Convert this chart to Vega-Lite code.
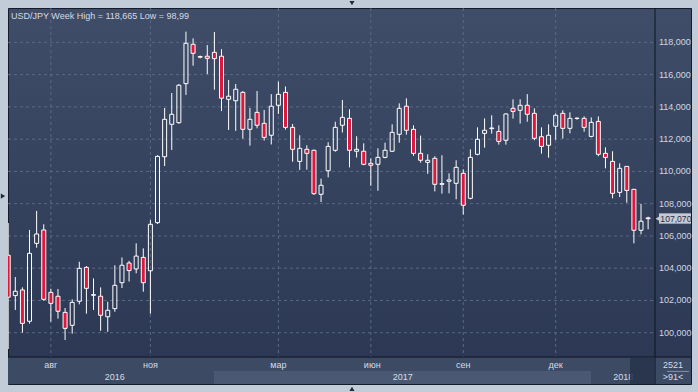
{
  "$schema": "https://vega.github.io/schema/vega-lite/v6.json",
  "width": 683,
  "height": 376,
  "autosize": {"type": "none"},
  "padding": {"left": 8, "top": 8, "right": 7, "bottom": 8},
  "background": "#c2ccd8",
  "title": {
    "text": "USD/JPY Week High = 118,665 Low = 98,99",
    "anchor": "start",
    "frame": "group",
    "orient": "top",
    "offset": -20,
    "dx": 3,
    "font": "Liberation Sans",
    "fontSize": 9,
    "fontWeight": "normal",
    "color": "#d4dae4"
  },
  "config": {
    "font": "Liberation Sans",
    "locale": {"number": {"decimal": ",", "thousands": " ", "grouping": [3], "currency": ["", ""]}},
    "view": {
      "fill": {"gradient": "linear", "x1": 0, "y1": 0, "x2": 0, "y2": 1,
        "stops": [{"offset": 0, "color": "#3f4d68"}, {"offset": 0.93, "color": "#2c3854"}, {"offset": 1, "color": "#2c3854"}]},
      "stroke": "#151b28",
      "strokeWidth": 1
    }
  },
  "datasets": {
    "candles": [
      {"i":0,"o":104.8,"h":106.8,"l":98.99,"c":102.2},
      {"i":1,"o":102.3,"h":103.45,"l":101.41,"c":102.57},
      {"i":2,"o":102.65,"h":102.81,"l":100.0,"c":100.58},
      {"i":3,"o":100.71,"h":106.37,"l":100.56,"c":104.92},
      {"i":4,"o":105.54,"h":107.55,"l":105.27,"c":106.12},
      {"i":5,"o":106.37,"h":106.72,"l":101.98,"c":102.07},
      {"i":6,"o":102.5,"h":102.73,"l":100.68,"c":101.82},
      {"i":7,"o":102.26,"h":102.71,"l":100.87,"c":101.33},
      {"i":8,"o":101.26,"h":101.53,"l":99.55,"c":100.27},
      {"i":9,"o":100.46,"h":102.07,"l":99.94,"c":101.88},
      {"i":10,"o":101.95,"h":104.4,"l":101.76,"c":103.99},
      {"i":11,"o":104.05,"h":104.13,"l":101.18,"c":102.75},
      {"i":12,"o":102.36,"h":103.37,"l":101.41,"c":102.32},
      {"i":13,"o":102.26,"h":102.81,"l":100.12,"c":101.08},
      {"i":14,"o":100.99,"h":101.92,"l":100.06,"c":101.39},
      {"i":15,"o":101.49,"h":104.18,"l":101.3,"c":102.94},
      {"i":16,"o":103.1,"h":104.67,"l":102.77,"c":104.18},
      {"i":17,"o":104.32,"h":104.45,"l":103.17,"c":103.85},
      {"i":18,"o":103.95,"h":105.54,"l":103.68,"c":104.75},
      {"i":19,"o":104.67,"h":105.23,"l":102.54,"c":103.1},
      {"i":20,"o":103.84,"h":106.99,"l":101.18,"c":106.72},
      {"i":21,"o":106.82,"h":111.0,"l":106.74,"c":110.93},
      {"i":22,"o":110.91,"h":113.93,"l":110.33,"c":113.23},
      {"i":23,"o":112.92,"h":114.86,"l":111.33,"c":113.54},
      {"i":24,"o":113.02,"h":115.42,"l":112.95,"c":115.34},
      {"i":25,"o":115.44,"h":118.665,"l":114.74,"c":117.94},
      {"i":26,"o":117.88,"h":118.25,"l":116.55,"c":117.32},
      {"i":27,"o":117.12,"h":117.18,"l":117.01,"c":117.08},
      {"i":28,"o":117.14,"h":117.83,"l":116.03,"c":117.01},
      {"i":29,"o":117.38,"h":118.64,"l":115.07,"c":116.99},
      {"i":30,"o":117.14,"h":117.58,"l":113.74,"c":114.54},
      {"i":31,"o":114.47,"h":115.67,"l":112.57,"c":114.66},
      {"i":32,"o":114.38,"h":115.42,"l":112.51,"c":115.09},
      {"i":33,"o":114.9,"h":114.98,"l":112.03,"c":112.61},
      {"i":34,"o":112.61,"h":113.93,"l":111.6,"c":113.23},
      {"i":35,"o":113.66,"h":114.98,"l":112.67,"c":112.86},
      {"i":36,"o":112.98,"h":113.81,"l":111.91,"c":112.11},
      {"i":37,"o":112.24,"h":114.79,"l":111.67,"c":114.04},
      {"i":38,"o":114.1,"h":115.57,"l":113.56,"c":114.78},
      {"i":39,"o":114.9,"h":115.26,"l":112.59,"c":112.73},
      {"i":40,"o":112.73,"h":112.94,"l":110.6,"c":111.37},
      {"i":41,"o":110.62,"h":112.24,"l":110.09,"c":111.43},
      {"i":42,"o":111.37,"h":111.62,"l":110.11,"c":111.12},
      {"i":43,"o":111.31,"h":111.35,"l":108.54,"c":108.62},
      {"i":44,"o":108.58,"h":109.55,"l":108.1,"c":109.14},
      {"i":45,"o":110.04,"h":111.81,"l":109.63,"c":111.55},
      {"i":46,"o":111.31,"h":113.08,"l":111.22,"c":112.73},
      {"i":47,"o":112.86,"h":114.43,"l":112.41,"c":113.35},
      {"i":48,"o":113.29,"h":113.85,"l":110.25,"c":111.31},
      {"i":49,"o":111.25,"h":112.18,"l":110.86,"c":111.37},
      {"i":50,"o":111.25,"h":111.74,"l":110.38,"c":110.44},
      {"i":51,"o":110.5,"h":110.81,"l":109.11,"c":110.38},
      {"i":52,"o":110.44,"h":111.43,"l":108.8,"c":110.87},
      {"i":53,"o":110.87,"h":111.78,"l":110.81,"c":111.31},
      {"i":54,"o":111.25,"h":112.92,"l":111.2,"c":112.42},
      {"i":55,"o":112.3,"h":114.22,"l":111.78,"c":113.91},
      {"i":56,"o":114.04,"h":114.53,"l":112.28,"c":112.55},
      {"i":57,"o":112.61,"h":112.86,"l":110.97,"c":111.12},
      {"i":58,"o":111.12,"h":112.22,"l":110.54,"c":110.69},
      {"i":59,"o":110.56,"h":111.06,"l":109.85,"c":110.69},
      {"i":60,"o":110.81,"h":110.94,"l":108.76,"c":109.2},
      {"i":61,"o":109.24,"h":111.0,"l":108.62,"c":109.2},
      {"i":62,"o":109.39,"h":109.88,"l":108.64,"c":109.47},
      {"i":63,"o":109.26,"h":110.69,"l":108.27,"c":110.25},
      {"i":64,"o":109.88,"h":110.13,"l":107.32,"c":107.9},
      {"i":65,"o":108.33,"h":111.37,"l":108.27,"c":110.87},
      {"i":66,"o":111.06,"h":112.73,"l":111.0,"c":111.99},
      {"i":67,"o":112.36,"h":113.29,"l":111.47,"c":112.55},
      {"i":68,"o":112.69,"h":113.48,"l":112.34,"c":112.65},
      {"i":69,"o":112.48,"h":112.86,"l":111.66,"c":111.86},
      {"i":70,"o":111.93,"h":113.6,"l":111.66,"c":113.56},
      {"i":71,"o":113.91,"h":114.47,"l":113.27,"c":113.72},
      {"i":72,"o":113.79,"h":114.47,"l":112.96,"c":114.1},
      {"i":73,"o":114.1,"h":114.79,"l":113.08,"c":113.54},
      {"i":74,"o":113.6,"h":113.91,"l":111.93,"c":112.05},
      {"i":75,"o":112.15,"h":112.73,"l":111.1,"c":111.55},
      {"i":76,"o":111.62,"h":112.92,"l":110.85,"c":112.24},
      {"i":77,"o":112.8,"h":113.6,"l":111.96,"c":113.48},
      {"i":78,"o":113.6,"h":113.79,"l":112.03,"c":112.67},
      {"i":79,"o":112.67,"h":113.66,"l":112.36,"c":113.29},
      {"i":80,"o":113.3,"h":113.35,"l":113.2,"c":113.28},
      {"i":81,"o":113.29,"h":113.41,"l":112.46,"c":112.73},
      {"i":82,"o":112.17,"h":113.35,"l":112.11,"c":113.04},
      {"i":83,"o":113.1,"h":113.41,"l":110.94,"c":111.06},
      {"i":84,"o":111.12,"h":111.49,"l":110.19,"c":110.87},
      {"i":85,"o":110.62,"h":111.25,"l":108.33,"c":108.64},
      {"i":86,"o":108.7,"h":110.5,"l":108.41,"c":110.19},
      {"i":87,"o":110.31,"h":110.31,"l":108.06,"c":108.82},
      {"i":88,"o":108.89,"h":108.89,"l":105.54,"c":106.35},
      {"i":89,"o":106.35,"h":107.98,"l":106.1,"c":106.91},
      {"i":90,"o":107.12,"h":107.19,"l":106.41,"c":107.07}
    ],
    "hgrid": [{"v":100},{"v":102},{"v":104},{"v":106},{"v":108},{"v":110},{"v":112},{"v":114},{"v":116},{"v":118}],
    "vgrid": [{"i":6},{"i":20},{"i":38},{"i":51},{"i":64},{"i":77}],
    "xlab": [
      {"i":6,"t":"авг","row":1},
      {"i":20,"t":"ноя","row":1},
      {"i":38,"t":"мар","row":1},
      {"i":51.2,"t":"июн","row":1},
      {"i":64,"t":"сен","row":1},
      {"i":77,"t":"дек","row":1},
      {"i":15,"t":"2016","row":2},
      {"i":55.5,"t":"2017","row":2},
      {"i":86.5,"t":"2018","row":2},
      {"i":93.5,"t":"2521","row":1},
      {"i":93.5,"t":">91<","row":2}
    ],
    "last": [{"v":107.07,"label":"107,070"}]
  },
  "layer": [
    {
      "data": {"values": [{"part": "date band"}]},
      "mark": {"type": "rect", "fill": "#3c4a64"},
      "encoding": {
        "x": {"datum": -0.028, "type": "quantitative", "scale": {"domain": [-0.028, 96.03], "nice": false, "zero": false, "padding": 0}, "axis": null},
        "x2": {"datum": 96.03},
        "y": {"datum": 98.49, "type": "quantitative", "scale": {"domain": [96.82, 120.13], "nice": false, "zero": false, "padding": 0}, "axis": null},
        "y2": {"datum": 96.82}
      }
    },
    {
      "data": {"values": [{"part": "2017"}]},
      "mark": {"type": "rect", "fill": "#4a5873"},
      "encoding": {
        "x": {"datum": 28.94, "type": "quantitative", "scale": {"domain": [-0.028, 96.03], "nice": false, "zero": false, "padding": 0}, "axis": null},
        "x2": {"datum": 81.97},
        "y": {"datum": 97.63, "type": "quantitative", "scale": {"domain": [96.82, 120.13], "nice": false, "zero": false, "padding": 0}, "axis": null},
        "y2": {"datum": 96.82}
      }
    },
    {
      "data": {"name": "hgrid"},
      "mark": {"type": "rule", "color": "#5a6984", "strokeWidth": 1, "strokeDash": [3, 3]},
      "encoding": {
        "y": {"field": "v", "type": "quantitative", "scale": {"domain": [96.82, 120.13], "nice": false, "zero": false, "padding": 0}, "axis": null},
        "x": {"datum": -0.028, "type": "quantitative", "scale": {"domain": [-0.028, 96.03], "nice": false, "zero": false, "padding": 0}, "axis": null},
        "x2": {"datum": 90.97}
      }
    },
    {
      "data": {"name": "vgrid"},
      "mark": {"type": "rule", "color": "#5a6984", "strokeWidth": 1, "strokeDash": [3, 3]},
      "encoding": {
        "x": {"field": "i", "type": "quantitative", "scale": {"domain": [-0.028, 96.03], "nice": false, "zero": false, "padding": 0}, "axis": null},
        "y": {"datum": 120.13, "type": "quantitative", "scale": {"domain": [96.82, 120.13], "nice": false, "zero": false, "padding": 0}, "axis": null},
        "y2": {"datum": 98.49}
      }
    },
    {
      "data": {"values": [{"part": "price axis line"}]},
      "mark": {"type": "rule", "color": "#10151f", "strokeWidth": 1},
      "encoding": {
        "x": {"datum": 90.97, "type": "quantitative", "scale": {"domain": [-0.028, 96.03], "nice": false, "zero": false, "padding": 0}, "axis": null},
        "y": {"datum": 120.13, "type": "quantitative", "scale": {"domain": [96.82, 120.13], "nice": false, "zero": false, "padding": 0}, "axis": null},
        "y2": {"datum": 96.82}
      }
    },
    {
      "data": {"values": [{"part": "date axis line"}]},
      "mark": {"type": "rule", "color": "#10151f", "strokeWidth": 1},
      "encoding": {
        "x": {"datum": -0.028, "type": "quantitative", "scale": {"domain": [-0.028, 96.03], "nice": false, "zero": false, "padding": 0}, "axis": null},
        "x2": {"datum": 96.03},
        "y": {"datum": 98.49, "type": "quantitative", "scale": {"domain": [96.82, 120.13], "nice": false, "zero": false, "padding": 0}, "axis": null}
      }
    },
    {
      "data": {"values": [{"part": "counter separator"}]},
      "mark": {"type": "rule", "color": "#8793a7", "strokeWidth": 1},
      "encoding": {
        "x": {"datum": 92.66, "type": "quantitative", "scale": {"domain": [-0.028, 96.03], "nice": false, "zero": false, "padding": 0}, "axis": null},
        "x2": {"datum": 95.75},
        "y": {"datum": 97.6, "type": "quantitative", "scale": {"domain": [96.82, 120.13], "nice": false, "zero": false, "padding": 0}, "axis": null}
      }
    },
    {
      "data": {"name": "candles"},
      "transform": [
        {"fold": ["o", "c"], "as": ["k", "p"]},
        {"aggregate": [
          {"op": "max", "field": "p", "as": "top"},
          {"op": "min", "field": "p", "as": "bot"},
          {"op": "max", "field": "h", "as": "hi"},
          {"op": "min", "field": "l", "as": "lo"}
        ], "groupby": ["i"]}
      ],
      "layer": [
        {
          "mark": {"type": "rule", "color": "#ffffff", "strokeWidth": 1, "clip": true},
          "encoding": {
            "x": {"field": "i", "type": "quantitative", "scale": {"domain": [-0.028, 96.03], "nice": false, "zero": false, "padding": 0}, "axis": null},
            "y": {"field": "hi", "type": "quantitative", "scale": {"domain": [96.82, 120.13], "nice": false, "zero": false, "padding": 0}, "axis": null},
            "y2": {"field": "top"}
          }
        },
        {
          "mark": {"type": "rule", "color": "#ffffff", "strokeWidth": 1, "clip": true},
          "encoding": {
            "x": {"field": "i", "type": "quantitative", "scale": {"domain": [-0.028, 96.03], "nice": false, "zero": false, "padding": 0}, "axis": null},
            "y": {"field": "bot", "type": "quantitative", "scale": {"domain": [96.82, 120.13], "nice": false, "zero": false, "padding": 0}, "axis": null},
            "y2": {"field": "lo"}
          }
        }
      ]
    },
    {
      "data": {"name": "candles"},
      "mark": {"type": "bar", "width": 4, "stroke": "#ffffff", "strokeWidth": 1, "clip": true},
      "encoding": {
        "x": {"field": "i", "type": "quantitative", "scale": {"domain": [-0.028, 96.03], "nice": false, "zero": false, "padding": 0}, "axis": null},
        "y": {"field": "o", "type": "quantitative", "scale": {"domain": [96.82, 120.13], "nice": false, "zero": false, "padding": 0}, "axis": null},
        "y2": {"field": "c"},
        "fill": {"condition": {"test": "datum.c < datum.o", "value": "#e1163c"}, "value": "transparent"}
      }
    },
    {
      "data": {"name": "hgrid"},
      "mark": {"type": "text", "align": "left", "baseline": "middle", "font": "Liberation Sans", "fontSize": 9, "fill": "#cfd7e3"},
      "encoding": {
        "x": {"datum": 91.53, "type": "quantitative", "scale": {"domain": [-0.028, 96.03], "nice": false, "zero": false, "padding": 0}, "axis": null},
        "y": {"field": "v", "type": "quantitative", "scale": {"domain": [96.82, 120.13], "nice": false, "zero": false, "padding": 0}, "axis": null},
        "text": {"field": "v", "type": "quantitative", "format": ".3f"}
      }
    },
    {
      "data": {"name": "xlab"},
      "transform": [{"filter": "datum.row == 1"}],
      "mark": {"type": "text", "align": "center", "baseline": "alphabetic", "font": "Liberation Sans", "fontSize": 9, "fill": "#d6dce6"},
      "encoding": {
        "x": {"field": "i", "type": "quantitative", "scale": {"domain": [-0.028, 96.03], "nice": false, "zero": false, "padding": 0}, "axis": null},
        "y": {"datum": 97.8, "type": "quantitative", "scale": {"domain": [96.82, 120.13], "nice": false, "zero": false, "padding": 0}, "axis": null},
        "text": {"field": "t"}
      }
    },
    {
      "data": {"name": "xlab"},
      "transform": [{"filter": "datum.row == 2"}],
      "mark": {"type": "text", "align": "center", "baseline": "alphabetic", "font": "Liberation Sans", "fontSize": 9, "fill": "#d6dce6"},
      "encoding": {
        "x": {"field": "i", "type": "quantitative", "scale": {"domain": [-0.028, 96.03], "nice": false, "zero": false, "padding": 0}, "axis": null},
        "y": {"datum": 97.07, "type": "quantitative", "scale": {"domain": [96.82, 120.13], "nice": false, "zero": false, "padding": 0}, "axis": null},
        "text": {"field": "t"}
      }
    },
    {
      "data": {"values": [{"part": "scroll"}]},
      "mark": {"type": "rect", "fill": "#27324a", "opacity": 0.85},
      "encoding": {
        "x": {"datum": 87.45, "type": "quantitative", "scale": {"domain": [-0.028, 96.03], "nice": false, "zero": false, "padding": 0}, "axis": null},
        "x2": {"datum": 90.97},
        "y": {"datum": 98.45, "type": "quantitative", "scale": {"domain": [96.82, 120.13], "nice": false, "zero": false, "padding": 0}, "axis": null},
        "y2": {"datum": 96.82}
      }
    },
    {
      "data": {"values": [{"pos": "top"}]},
      "mark": {"type": "point", "shape": "triangle-down", "filled": true, "fill": "#1f2a3d", "size": 26, "opacity": 1, "clip": false},
      "encoding": {
        "x": {"datum": 48.35, "type": "quantitative", "scale": {"domain": [-0.028, 96.03], "nice": false, "zero": false, "padding": 0}, "axis": null},
        "y": {"datum": 120.43, "type": "quantitative", "scale": {"domain": [96.82, 120.13], "nice": false, "zero": false, "padding": 0}, "axis": null}
      }
    },
    {
      "data": {"values": [{"pos": "bottom"}]},
      "mark": {"type": "point", "shape": "triangle-up", "filled": true, "fill": "#1f2a3d", "size": 26, "opacity": 1, "clip": false},
      "encoding": {
        "x": {"datum": 48.35, "type": "quantitative", "scale": {"domain": [-0.028, 96.03], "nice": false, "zero": false, "padding": 0}, "axis": null},
        "y": {"datum": 96.52, "type": "quantitative", "scale": {"domain": [96.82, 120.13], "nice": false, "zero": false, "padding": 0}, "axis": null}
      }
    },
    {
      "data": {"values": [{"pos": "left"}]},
      "mark": {"type": "point", "shape": "triangle-right", "filled": true, "fill": "#1f2a3d", "size": 26, "opacity": 1, "clip": false},
      "encoding": {
        "x": {"datum": -0.73, "type": "quantitative", "scale": {"domain": [-0.028, 96.03], "nice": false, "zero": false, "padding": 0}, "axis": null},
        "y": {"datum": 108.47, "type": "quantitative", "scale": {"domain": [96.82, 120.13], "nice": false, "zero": false, "padding": 0}, "axis": null}
      }
    },
    {
      "data": {"name": "last"},
      "layer": [
        {
          "mark": {"type": "rect", "fill": "#c6cad2"},
          "encoding": {
            "x": {"datum": 91.53, "type": "quantitative", "scale": {"domain": [-0.028, 96.03], "nice": false, "zero": false, "padding": 0}, "axis": null},
            "x2": {"datum": 96.03},
            "y": {"datum": 107.4, "type": "quantitative", "scale": {"domain": [96.82, 120.13], "nice": false, "zero": false, "padding": 0}, "axis": null},
            "y2": {"datum": 106.76}
          }
        },
        {
          "mark": {"type": "point", "shape": "triangle-left", "filled": true, "fill": "#c6cad2", "size": 22, "opacity": 1},
          "encoding": {
            "x": {"datum": 91.33, "type": "quantitative", "scale": {"domain": [-0.028, 96.03], "nice": false, "zero": false, "padding": 0}, "axis": null},
            "y": {"field": "v", "type": "quantitative", "scale": {"domain": [96.82, 120.13], "nice": false, "zero": false, "padding": 0}, "axis": null}
          }
        },
        {
          "mark": {"type": "text", "align": "left", "baseline": "middle", "font": "Liberation Sans", "fontSize": 8.6, "fill": "#27314a"},
          "encoding": {
            "x": {"datum": 91.72, "type": "quantitative", "scale": {"domain": [-0.028, 96.03], "nice": false, "zero": false, "padding": 0}, "axis": null},
            "y": {"field": "v", "type": "quantitative", "scale": {"domain": [96.82, 120.13], "nice": false, "zero": false, "padding": 0}, "axis": null},
            "text": {"field": "label"}
          }
        }
      ]
    }
  ]
}
